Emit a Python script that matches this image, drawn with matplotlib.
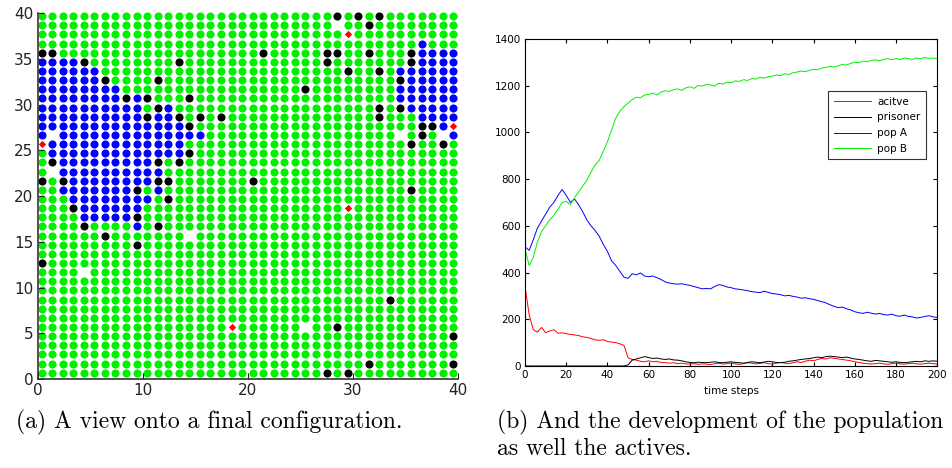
import numpy as np
import matplotlib.pyplot as plt

# final lattice state, top row first; G=pop B, B=pop A, K=prisoner, R=active, .=empty
grid_rows = [
    "GGGGGGGGGGGGGG" + "GGGGGGGGGGGGG" + "GKGKGKGGGGGGG",
    "GGGGGGGGGGGGGG" + "GGGGGGGGGGGGG" + "G.GGKGGGGGGGG",
    "GGGGGGGGGGGGGG" + "GGGGGGGGGGGGG" + "GGRGGGGGGGGGG",
    "GGGGGGGGGGGGGG" + "GGGGGGGGGGGGG" + "GGGGGGGGGBGGG",
    "KKGGGGGGGGGGGG" + "GGGGGGGKGGGGG" + "KKGGKGGGKBBBB",
    "BBBBKGGGGGGGGK" + "GGGGGGGGGGGGG" + "KGGGGGGGKBBBB",
    "BBBBBBGGGGGGGG" + "GGGGGGGGGGGGG" + "GGKGGKGBBBBBB",
    "BBBBBBKGGGGKGG" + "GGGGGGGGGGGGG" + "GGGGGGGKBBBBB",
    "BBBBBBBBGGGGGG" + "GGGGGGGGGGGKG" + "GGGGGGGBBBBBB",
    "BBBBBBBBKBKGGG" + "KGGGGGGGGGGGG" + "GGGGGGGBBBBBB",
    "BBBBBBBBBBGKBG" + "GGGGGGGGGGGGG" + "GGGGGKGKBBBBB",
    "BBBBBBBBBBKBBK" + "GKGKGGGGGGGGG" + "GGGGGKGGGBBBB",
    "BBBBBBBBBBBBBB" + "KGGGGGGGGGGGG" + "GGGGGGGGGKKBR",
    "B.BBBBBBBBBBBB" + "BBGGGGGGGGGGG" + "GGGGGGG.GKG.B",
    "RBBBBBBBBBBBBB" + "GGGGGGGGGGGGG" + "GGGGGGGGKGGKG",
    "GBBBBBBBBBBBBB" + "KGGGGGGGGGGGG" + "GGGGGGGGGGGGG",
    "GKBBBBBBBBBKGK" + "GGGGGGGGGGGGG" + "GGGGGGGGGGGGG",
    "G.BBBBBBBBBBGG" + "GGGGGGGGGGGGG" + "GGGGGGGGGGGGG",
    "KGKBBBBBBBBKKG" + "GGGGGGKGGGGGG" + "GGGGGGGGGGGGG",
    "GGBBBBBBBKGBGG" + "GGGGGGGGGGGGG" + "GGGGGGGGKGGGG",
    "GGGBBBBBBBBGKG" + "GGGGGGGGGGGGG" + "GGGGGGGGGGGGG",
    "GGGKBBBBBBGGGG" + "GGGGGGGGGGGGG" + "GGRGGGGGGGGGG",
    "GGGGBBBBBKGGGG" + "GGGGGGGGGGGGG" + "GGGGGGGGGGGGG",
    "GGGGKGGGGBGKGG" + "GGGGGGGGGGGGG" + "GGGGGGGGGGGGG",
    "GGGGGGKGGGGGGG" + ".GGGGGGGGGGGG" + "GGGGGGGGGGGGG",
    "GGGGGGGGGKGGGG" + "GGGGGGGGGGGGG" + "GGGGGGGGGGGGG",
    "GGGGGGGGGGGGGG" + "GGGGGGGGGGGGG" + "GGGGGGGGGGGGG",
    "KGGGGGGGGGGGGG" + "GGGGGGGGGGGGG" + "GGGGGGGGGGGGG",
    "GGGG.GGGGGGGGG" + "GGGGGGGGGGGGG" + "GGGGGGGGGGGGG",
    "GGGGGGGGGGGGGG" + "GGGGGGGGGGGGG" + "GGGGGGGGGGGGG",
    "GGGGGGGGGGGGGG" + "GGGGGGGGGGGGG" + "GGGGGGGGGGGGG",
    "GGGGGGGGGGGGGG" + "GGGGGGGGGGGGG" + "GGGGGGKGGGGGG",
    "GGGGGGGGGGGGGG" + "GGGGGGGGGGGGG" + "GGGGGGGGGGGGG",
    "GGGGGGGGGGGGGG" + "GGGGGGGGGGGGG" + "GGGGGGGGGGGGG",
    "GGGGGGGGGGGGGG" + "GGGGRGGGGGG.G" + "GKGGGGGGGGGGG",
    "GGGGGGGGGGGGGG" + "GGGGGGGGGGGGG" + "GGGGGGGGGGGGK",
    "GGGGGGGGGGGGGG" + "GGGGGGGGGGGGG" + "GGGGGGGGGGGGG",
    "GGGGGGGGGGGGGG" + "GGGGGGGGGGGGG" + "GGGGGGGGGGGGG",
    "GGGGGGGGGGGGGG" + "GGGGGGGGGGGGG" + "GGGGKGGGGGGGK",
    "GGGGGGGGGGGGGG" + "GGGGGGGGGGGGG" + "KGKGGGGGGGGGG",
]

steps = np.arange(0, 201, 2)
active = [340, 220, 155, 145, 165, 142, 150, 155, 140, 142, 138, 135, 133, 130, 125,
          122, 118, 112, 110, 112, 105, 102, 100, 95, 88, 35, 28, 25, 20, 18,
          22, 18, 20, 15, 14, 12, 14, 10, 12, 9, 8, 10, 7, 9, 8,
          6, 10, 12, 8, 10, 12, 9, 7, 10, 14, 12, 9, 11, 14, 10,
          8, 12, 15, 12, 10, 14, 18, 15, 20, 25, 22, 28, 32, 30, 35,
          33, 30, 28, 25, 22, 18, 15, 12, 10, 8, 10, 12, 9, 7, 10,
          12, 9, 8, 10, 12, 9, 8, 10, 12, 10, 8]
prisoner = [0] * 25 + [5, 25, 30, 35, 40, 36, 32, 34, 30, 28, 30, 26, 25, 22, 18,
            15, 14, 16, 15, 14, 16, 18, 15, 14, 16, 18, 15, 14, 12, 15,
            18, 16, 14, 17, 20, 18, 15, 14, 16, 20, 22, 25, 28, 30, 32,
            35, 38, 36, 40, 42, 40, 38, 36, 38, 34, 30, 28, 25, 22, 20,
            24, 22, 20, 18, 16, 18, 15, 14, 16, 18, 20, 18, 22, 20, 22, 20]
pop_a = [510, 495, 540, 590, 620, 650, 680, 700, 730, 755, 730, 700, 715, 690, 660,
         625, 600, 580, 555, 520, 490, 450, 430, 405, 380, 375, 395, 390, 398, 385,
         382, 385, 378, 370, 360, 355, 352, 350, 352, 348, 345, 340, 335, 330, 332,
         330, 340, 348, 345, 338, 335, 330, 328, 325, 322, 318, 316, 314, 320, 315,
         310, 308, 305, 300, 302, 298, 295, 290, 292, 288, 285, 280, 275, 270, 262,
         255, 250, 252, 245, 240, 232, 228, 225, 230, 226, 222, 225, 220, 218, 222,
         215, 213, 218, 212, 210, 205, 208, 212, 215, 210, 208]
pop_b = [500, 430, 465, 530, 575, 600, 625, 645, 670, 700, 705, 690, 720, 745, 770,
         795, 830, 860, 880, 920, 960, 1010, 1060, 1090, 1110, 1125, 1140, 1150, 1148, 1160,
         1162, 1168, 1160, 1172, 1178, 1175, 1182, 1186, 1180, 1190, 1195, 1188, 1200, 1198, 1205,
         1202, 1198, 1210, 1206, 1215, 1212, 1220, 1218, 1225, 1222, 1230, 1228, 1235, 1232, 1238,
         1240, 1245, 1243, 1250, 1248, 1255, 1258, 1262, 1260, 1265, 1270, 1268, 1275, 1278, 1282,
         1280, 1285, 1290, 1288, 1295, 1300, 1298, 1305, 1302, 1308, 1310, 1306, 1312, 1315, 1310,
         1316, 1312, 1318, 1315, 1312, 1318, 1315, 1320, 1316, 1318, 1315]

fig = plt.figure(figsize=(9.52, 4.68), dpi=100)

# --- (a) lattice ---
ax1 = fig.add_axes([0.040, 0.190, 0.441, 0.782])
xs = np.linspace(0.33, 39.55, 40)
ys = np.linspace(39.66, 0.70, 40)
colors = {'G': '#00f000', 'B': '#0000ff', 'K': '#000000'}
for code, col in colors.items():
    pts = [(xs[j], ys[i]) for i, row in enumerate(grid_rows) for j, c in enumerate(row) if c == code]
    px, py = zip(*pts)
    ax1.scatter(px, py, s=34, c=col, linewidths=0, clip_on=False)
pts = [(xs[j], ys[i]) for i, row in enumerate(grid_rows) for j, c in enumerate(row) if c == 'R']
px, py = zip(*pts)
ax1.scatter(px, py, s=14, c='#ff0000', marker='D', linewidths=0, clip_on=False)
ax1.set_xlim(0, 40)
ax1.set_ylim(0, 40)
ax1.set_xticks(range(0, 41, 10))
ax1.set_yticks(range(0, 41, 5))
ax1.spines[['top', 'right']].set_visible(False)
for s in ['left', 'bottom']:
    ax1.spines[s].set_linewidth(1.2)
    ax1.spines[s].set_color('#333333')
ax1.tick_params(direction='in', length=4, labelsize=11, colors='#222222')
ax1.tick_params(axis='x', pad=3)

# --- (b) time series ---
ax2 = fig.add_axes([0.5515, 0.218, 0.433, 0.699])
ax2.plot(steps, active, color='#ff0000', lw=0.7, label='acitve')
ax2.plot(steps, prisoner, color='#000000', lw=0.7, label='prisoner')
ax2.plot(steps, pop_a, color='#0000ff', lw=0.7, label='pop A')
ax2.plot(steps, pop_b, color='#00f000', lw=0.7, label='pop B')
ax2.set_xlim(0, 200)
ax2.set_ylim(0, 1400)
ax2.set_xticks(range(0, 201, 20))
ax2.set_yticks(range(0, 1401, 200))
ax2.tick_params(direction='in', length=3, labelsize=7.5, top=True, right=True, pad=3)
for s in ax2.spines.values():
    s.set_linewidth(0.8)
ax2.set_xlabel('time steps', fontsize=7.5, labelpad=4)
leg = ax2.legend(loc='upper right', bbox_to_anchor=(0.985, 0.855), fontsize=7.5,
                 frameon=True, fancybox=False, edgecolor='black', handlelength=3.6,
                 borderpad=0.5, labelspacing=0.55, handletextpad=0.6)
leg.get_frame().set_linewidth(0.8)

# captions
cap = dict(family='cmr10', fontsize=17, va='baseline')
fig.text(0.017, 0.085, '(a) A view onto a final configuration.', **cap)
fig.text(0.522, 0.085, '(b) And the development of the population', **cap)
fig.text(0.522, 0.027, 'as well the actives.', **cap)

fig.savefig('out.png', dpi=100)
